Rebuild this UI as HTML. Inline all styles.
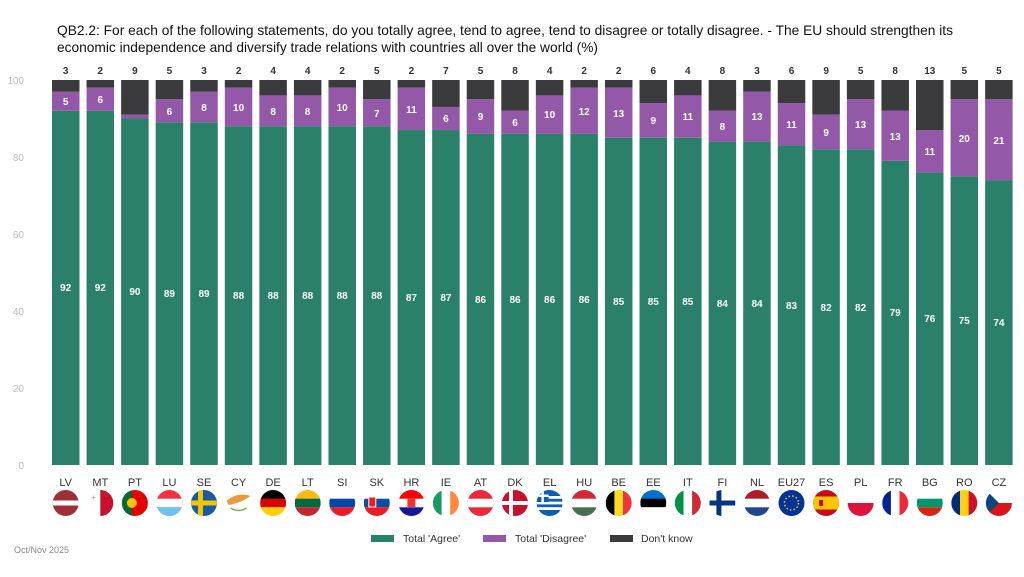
<!DOCTYPE html>
<html><head><meta charset="utf-8"><style>
body{margin:0;background:#fff}
svg{display:block;font-family:"Liberation Sans",sans-serif}
.g{fill:#2a8069}.p{fill:#9458a8}.k{fill:#3b3a3d}
.vl{font-size:10px;font-weight:bold;fill:#fff;text-anchor:middle}
.dk{font-size:10px;font-weight:bold;fill:#333;text-anchor:middle}
.cl{font-size:11px;fill:#333;text-anchor:middle}
.ax{font-size:10px;fill:#bbb;text-anchor:end}
</style></head><body>
<svg width="1024" height="577" viewBox="0 0 1024 577">
<text x="57" y="35" font-size="14" fill="#111" textLength="896" lengthAdjust="spacingAndGlyphs">QB2.2: For each of the following statements, do you totally agree, tend to agree, tend to disagree or totally disagree. - The EU should strengthen its</text>
<text x="57" y="52" font-size="14" fill="#111" textLength="541" lengthAdjust="spacingAndGlyphs">economic independence and diversify trade relations with countries all over the world (%)</text>
<g class="ax"><text x="24" y="84">100</text><text x="24" y="161">80</text><text x="24" y="238">60</text><text x="24" y="315">40</text><text x="24" y="392">20</text><text x="24" y="469">0</text></g>
<defs><clipPath id="c"><circle cx="0" cy="0" r="13"/></clipPath></defs>
<g transform="translate(52,465) scale(1,-3.85)">
<g transform="translate(0,0)"><rect class="g" width="27.5" height="92"/><rect class="p" y="92" width="27.5" height="5"/><rect class="k" y="97" width="27.5" height="3"/></g>
<g transform="translate(34.56,0)"><rect class="g" width="27.5" height="92"/><rect class="p" y="92" width="27.5" height="6"/><rect class="k" y="98" width="27.5" height="2"/></g>
<g transform="translate(69.12,0)"><rect class="g" width="27.5" height="90"/><rect class="p" y="90" width="27.5" height="1"/><rect class="k" y="91" width="27.5" height="9"/></g>
<g transform="translate(103.68,0)"><rect class="g" width="27.5" height="89"/><rect class="p" y="89" width="27.5" height="6"/><rect class="k" y="95" width="27.5" height="5"/></g>
<g transform="translate(138.24,0)"><rect class="g" width="27.5" height="89"/><rect class="p" y="89" width="27.5" height="8"/><rect class="k" y="97" width="27.5" height="3"/></g>
<g transform="translate(172.8,0)"><rect class="g" width="27.5" height="88"/><rect class="p" y="88" width="27.5" height="10"/><rect class="k" y="98" width="27.5" height="2"/></g>
<g transform="translate(207.36,0)"><rect class="g" width="27.5" height="88"/><rect class="p" y="88" width="27.5" height="8"/><rect class="k" y="96" width="27.5" height="4"/></g>
<g transform="translate(241.92,0)"><rect class="g" width="27.5" height="88"/><rect class="p" y="88" width="27.5" height="8"/><rect class="k" y="96" width="27.5" height="4"/></g>
<g transform="translate(276.48,0)"><rect class="g" width="27.5" height="88"/><rect class="p" y="88" width="27.5" height="10"/><rect class="k" y="98" width="27.5" height="2"/></g>
<g transform="translate(311.04,0)"><rect class="g" width="27.5" height="88"/><rect class="p" y="88" width="27.5" height="7"/><rect class="k" y="95" width="27.5" height="5"/></g>
<g transform="translate(345.6,0)"><rect class="g" width="27.5" height="87"/><rect class="p" y="87" width="27.5" height="11"/><rect class="k" y="98" width="27.5" height="2"/></g>
<g transform="translate(380.16,0)"><rect class="g" width="27.5" height="87"/><rect class="p" y="87" width="27.5" height="6"/><rect class="k" y="93" width="27.5" height="7"/></g>
<g transform="translate(414.72,0)"><rect class="g" width="27.5" height="86"/><rect class="p" y="86" width="27.5" height="9"/><rect class="k" y="95" width="27.5" height="5"/></g>
<g transform="translate(449.28,0)"><rect class="g" width="27.5" height="86"/><rect class="p" y="86" width="27.5" height="6"/><rect class="k" y="92" width="27.5" height="8"/></g>
<g transform="translate(483.84,0)"><rect class="g" width="27.5" height="86"/><rect class="p" y="86" width="27.5" height="10"/><rect class="k" y="96" width="27.5" height="4"/></g>
<g transform="translate(518.4,0)"><rect class="g" width="27.5" height="86"/><rect class="p" y="86" width="27.5" height="12"/><rect class="k" y="98" width="27.5" height="2"/></g>
<g transform="translate(552.96,0)"><rect class="g" width="27.5" height="85"/><rect class="p" y="85" width="27.5" height="13"/><rect class="k" y="98" width="27.5" height="2"/></g>
<g transform="translate(587.52,0)"><rect class="g" width="27.5" height="85"/><rect class="p" y="85" width="27.5" height="9"/><rect class="k" y="94" width="27.5" height="6"/></g>
<g transform="translate(622.08,0)"><rect class="g" width="27.5" height="85"/><rect class="p" y="85" width="27.5" height="11"/><rect class="k" y="96" width="27.5" height="4"/></g>
<g transform="translate(656.64,0)"><rect class="g" width="27.5" height="84"/><rect class="p" y="84" width="27.5" height="8"/><rect class="k" y="92" width="27.5" height="8"/></g>
<g transform="translate(691.2,0)"><rect class="g" width="27.5" height="84"/><rect class="p" y="84" width="27.5" height="13"/><rect class="k" y="97" width="27.5" height="3"/></g>
<g transform="translate(725.76,0)"><rect class="g" width="27.5" height="83"/><rect class="p" y="83" width="27.5" height="11"/><rect class="k" y="94" width="27.5" height="6"/></g>
<g transform="translate(760.32,0)"><rect class="g" width="27.5" height="82"/><rect class="p" y="82" width="27.5" height="9"/><rect class="k" y="91" width="27.5" height="9"/></g>
<g transform="translate(794.88,0)"><rect class="g" width="27.5" height="82"/><rect class="p" y="82" width="27.5" height="13"/><rect class="k" y="95" width="27.5" height="5"/></g>
<g transform="translate(829.44,0)"><rect class="g" width="27.5" height="79"/><rect class="p" y="79" width="27.5" height="13"/><rect class="k" y="92" width="27.5" height="8"/></g>
<g transform="translate(864,0)"><rect class="g" width="27.5" height="76"/><rect class="p" y="76" width="27.5" height="11"/><rect class="k" y="87" width="27.5" height="13"/></g>
<g transform="translate(898.56,0)"><rect class="g" width="27.5" height="75"/><rect class="p" y="75" width="27.5" height="20"/><rect class="k" y="95" width="27.5" height="5"/></g>
<g transform="translate(933.12,0)"><rect class="g" width="27.5" height="74"/><rect class="p" y="74" width="27.5" height="21"/><rect class="k" y="95" width="27.5" height="5"/></g>
</g>
<g class="dk">
<text x="65.7" y="74">3</text><text x="100.3" y="74">2</text><text x="134.9" y="74">9</text><text x="169.4" y="74">5</text><text x="204" y="74">3</text><text x="238.6" y="74">2</text><text x="273.1" y="74">4</text><text x="307.7" y="74">4</text><text x="342.2" y="74">2</text><text x="376.8" y="74">5</text><text x="411.4" y="74">2</text><text x="445.9" y="74">7</text><text x="480.5" y="74">5</text><text x="515" y="74">8</text><text x="549.6" y="74">4</text><text x="584.2" y="74">2</text><text x="618.7" y="74">2</text><text x="653.3" y="74">6</text><text x="687.8" y="74">4</text><text x="722.4" y="74">8</text><text x="757" y="74">3</text><text x="791.5" y="74">6</text><text x="826.1" y="74">9</text><text x="860.6" y="74">5</text><text x="895.2" y="74">8</text><text x="929.8" y="74">13</text><text x="964.3" y="74">5</text><text x="998.9" y="74">5</text>
</g>
<g class="vl">
<text x="65.7" y="291">92</text><text x="100.3" y="291">92</text><text x="134.9" y="295">90</text><text x="169.4" y="297">89</text><text x="204" y="297">89</text><text x="238.6" y="299">88</text><text x="273.1" y="299">88</text><text x="307.7" y="299">88</text><text x="342.2" y="299">88</text><text x="376.8" y="299">88</text><text x="411.4" y="301">87</text><text x="445.9" y="301">87</text><text x="480.5" y="303">86</text><text x="515" y="303">86</text><text x="549.6" y="303">86</text><text x="584.2" y="303">86</text><text x="618.7" y="305">85</text><text x="653.3" y="305">85</text><text x="687.8" y="305">85</text><text x="722.4" y="307">84</text><text x="757" y="307">84</text><text x="791.5" y="309">83</text><text x="826.1" y="311">82</text><text x="860.6" y="311">82</text><text x="895.2" y="316">79</text><text x="929.8" y="322">76</text><text x="964.3" y="324">75</text><text x="998.9" y="326">74</text>
<text x="65.7" y="105">5</text><text x="100.3" y="103">6</text><text x="169.4" y="115">6</text><text x="204" y="111">8</text><text x="238.6" y="111">10</text><text x="273.1" y="115">8</text><text x="307.7" y="115">8</text><text x="342.2" y="111">10</text><text x="376.8" y="117">7</text><text x="411.4" y="113">11</text><text x="445.9" y="122">6</text><text x="480.5" y="120">9</text><text x="515" y="126">6</text><text x="549.6" y="118">10</text><text x="584.2" y="115">12</text><text x="618.7" y="117">13</text><text x="653.3" y="124">9</text><text x="687.8" y="120">11</text><text x="722.4" y="130">8</text><text x="757" y="120">13</text><text x="791.5" y="128">11</text><text x="826.1" y="136">9</text><text x="860.6" y="128">13</text><text x="895.2" y="140">13</text><text x="929.8" y="155">11</text><text x="964.3" y="142">20</text><text x="998.9" y="144">21</text>
</g>
<g class="cl">
<text x="65.7" y="486">LV</text><text x="100.3" y="486">MT</text><text x="134.9" y="486">PT</text><text x="169.4" y="486">LU</text><text x="204" y="486">SE</text><text x="238.6" y="486">CY</text><text x="273.1" y="486">DE</text><text x="307.7" y="486">LT</text><text x="342.2" y="486">SI</text><text x="376.8" y="486">SK</text><text x="411.4" y="486">HR</text><text x="445.9" y="486">IE</text><text x="480.5" y="486">AT</text><text x="515" y="486">DK</text><text x="549.6" y="486">EL</text><text x="584.2" y="486">HU</text><text x="618.7" y="486">BE</text><text x="653.3" y="486">EE</text><text x="687.8" y="486">IT</text><text x="722.4" y="486">FI</text><text x="757" y="486">NL</text><text x="791.5" y="486">EU27</text><text x="826.1" y="486">ES</text><text x="860.6" y="486">PL</text><text x="895.2" y="486">FR</text><text x="929.8" y="486">BG</text><text x="964.3" y="486">RO</text><text x="998.9" y="486">CZ</text>
</g>
<g clip-path="url(#c)" transform="translate(65.7,503)"><rect x="-13" y="-13" width="26" height="26" fill="#9e3039"/><rect x="-13" y="-2.5" width="26" height="5" fill="#fff"/></g>
<g transform="translate(100.3,503)"><g clip-path="url(#c)"><rect x="0" y="-13" width="13" height="26" fill="#c8102e"/></g><text x="-9" y="-3" font-size="8" fill="#c88">+</text></g>
<g clip-path="url(#c)" transform="translate(134.9,503)"><rect x="-13" y="-13" width="26" height="26" fill="#e50000"/><rect x="-13" y="-13" width="10" height="26" fill="#046a38"/><circle cx="-3" cy="0" r="5" fill="#f6c400"/></g>
<g clip-path="url(#c)" transform="translate(169.4,503)"><rect x="-13" y="-13" width="26" height="26" fill="#ef3340"/><rect x="-13" y="-4.3" width="26" height="8.6" fill="#fff"/><rect x="-13" y="4.3" width="26" height="9" fill="#6fc2ef"/></g>
<g clip-path="url(#c)" transform="translate(204,503)"><rect x="-13" y="-13" width="26" height="26" fill="#1a5aa0"/><rect x="-13" y="-2.5" width="26" height="5" fill="#f4c400"/><rect x="-6" y="-13" width="5" height="26" fill="#f4c400"/></g>
<g clip-path="url(#c)" transform="translate(238.6,503)"><path d="M-12,-2 C-6,-8 4,-10 12,-7 C6,-3 0,0 -10,2 Z" fill="#e89a3c"/><path d="M-8,5 Q0,10 8,5" stroke="#8aa85a" stroke-width="1.5" fill="none"/></g>
<g clip-path="url(#c)" transform="translate(273.1,503)"><rect x="-13" y="-13" width="26" height="9" fill="#000"/><rect x="-13" y="-4.3" width="26" height="8.6" fill="#dd0000"/><rect x="-13" y="4.3" width="26" height="9" fill="#ffce00"/></g>
<g clip-path="url(#c)" transform="translate(307.7,503)"><rect x="-13" y="-13" width="26" height="9" fill="#fdb913"/><rect x="-13" y="-4.3" width="26" height="8.6" fill="#006a44"/><rect x="-13" y="4.3" width="26" height="9" fill="#c1272d"/></g>
<g clip-path="url(#c)" transform="translate(342.2,503)"><rect x="-13" y="-13" width="26" height="9" fill="#fff"/><rect x="-13" y="-4.3" width="26" height="8.6" fill="#0047ab"/><rect x="-13" y="4.3" width="26" height="9" fill="#ed1c24"/></g>
<g clip-path="url(#c)" transform="translate(376.8,503)"><rect x="-13" y="-13" width="26" height="9" fill="#fff"/><rect x="-13" y="-4.3" width="26" height="8.6" fill="#0b4ea2"/><rect x="-13" y="4.3" width="26" height="9" fill="#ee1c25"/><rect x="-8" y="-6" width="7" height="10" fill="#ee1c25" stroke="#fff"/></g>
<g clip-path="url(#c)" transform="translate(411.4,503)"><rect x="-13" y="-13" width="26" height="9" fill="#ff0000"/><rect x="-13" y="-4.3" width="26" height="8.6" fill="#fff"/><rect x="-13" y="4.3" width="26" height="9" fill="#171796"/><rect x="-4" y="-5" width="8" height="9" fill="#e33"/></g>
<g clip-path="url(#c)" transform="translate(445.9,503)"><rect x="-13" y="-13" width="9" height="26" fill="#169b62"/><rect x="-4.3" y="-13" width="8.6" height="26" fill="#fff"/><rect x="4.3" y="-13" width="9" height="26" fill="#ff883e"/></g>
<g clip-path="url(#c)" transform="translate(480.5,503)"><rect x="-13" y="-13" width="26" height="26" fill="#ed2939"/><rect x="-13" y="-4.3" width="26" height="8.6" fill="#fff"/></g>
<g clip-path="url(#c)" transform="translate(515,503)"><rect x="-13" y="-13" width="26" height="26" fill="#c8102e"/><rect x="-13" y="-2" width="26" height="4" fill="#fff"/><rect x="-6" y="-13" width="4" height="26" fill="#fff"/></g>
<g clip-path="url(#c)" transform="translate(549.6,503)"><rect x="-13" y="-13" width="26" height="26" fill="#0d5eaf"/><rect x="-13" y="-7" width="26" height="2.8" fill="#fff"/><rect x="-13" y="-1.4" width="26" height="2.8" fill="#fff"/><rect x="-13" y="4.2" width="26" height="2.8" fill="#fff"/><rect x="-13" y="-13" width="12" height="12" fill="#0d5eaf"/><rect x="-13" y="-8.5" width="12" height="2.5" fill="#fff"/><rect x="-8.2" y="-13" width="2.5" height="12" fill="#fff"/></g>
<g clip-path="url(#c)" transform="translate(584.2,503)"><rect x="-13" y="-13" width="26" height="9" fill="#ce2939"/><rect x="-13" y="-4.3" width="26" height="8.6" fill="#fff"/><rect x="-13" y="4.3" width="26" height="9" fill="#477050"/></g>
<g clip-path="url(#c)" transform="translate(618.7,503)"><rect x="-13" y="-13" width="9" height="26" fill="#000"/><rect x="-4.3" y="-13" width="8.6" height="26" fill="#fdda24"/><rect x="4.3" y="-13" width="9" height="26" fill="#ef3340"/></g>
<g clip-path="url(#c)" transform="translate(653.3,503)"><rect x="-13" y="-13" width="26" height="9" fill="#0072ce"/><rect x="-13" y="-4.3" width="26" height="8.6" fill="#000"/><rect x="-13" y="4.3" width="26" height="9" fill="#fff"/></g>
<g clip-path="url(#c)" transform="translate(687.8,503)"><rect x="-13" y="-13" width="9" height="26" fill="#009246"/><rect x="-4.3" y="-13" width="8.6" height="26" fill="#fff"/><rect x="4.3" y="-13" width="9" height="26" fill="#ce2b37"/></g>
<g clip-path="url(#c)" transform="translate(722.4,503)"><rect x="-13" y="-13" width="26" height="26" fill="#fff"/><rect x="-13" y="-2.5" width="26" height="5" fill="#003580"/><rect x="-6" y="-13" width="5" height="26" fill="#003580"/></g>
<g clip-path="url(#c)" transform="translate(757,503)"><rect x="-13" y="-13" width="26" height="9" fill="#ae1c28"/><rect x="-13" y="-4.3" width="26" height="8.6" fill="#fff"/><rect x="-13" y="4.3" width="26" height="9" fill="#21468b"/></g>
<g clip-path="url(#c)" transform="translate(791.5,503)"><rect x="-13" y="-13" width="26" height="26" fill="#003399"/><circle r="7" fill="none" stroke="#fc0" stroke-width="1.5" stroke-dasharray="1.5 2.2"/></g>
<g clip-path="url(#c)" transform="translate(826.1,503)"><rect x="-13" y="-13" width="26" height="26" fill="#c60b1e"/><rect x="-13" y="-6.5" width="26" height="13" fill="#ffc400"/><rect x="-7" y="-3" width="4" height="6" fill="#c60b1e"/></g>
<g clip-path="url(#c)" transform="translate(860.6,503)"><rect x="-13" y="-13" width="26" height="13" fill="#fff"/><rect x="-13" y="0" width="26" height="13" fill="#dc143c"/></g>
<g clip-path="url(#c)" transform="translate(895.2,503)"><rect x="-13" y="-13" width="9" height="26" fill="#002395"/><rect x="-4.3" y="-13" width="8.6" height="26" fill="#fff"/><rect x="4.3" y="-13" width="9" height="26" fill="#ed2939"/></g>
<g clip-path="url(#c)" transform="translate(929.8,503)"><rect x="-13" y="-13" width="26" height="9" fill="#fff"/><rect x="-13" y="-4.3" width="26" height="8.6" fill="#00966e"/><rect x="-13" y="4.3" width="26" height="9" fill="#d62612"/></g>
<g clip-path="url(#c)" transform="translate(964.3,503)"><rect x="-13" y="-13" width="9" height="26" fill="#002b7f"/><rect x="-4.3" y="-13" width="8.6" height="26" fill="#fcd116"/><rect x="4.3" y="-13" width="9" height="26" fill="#ce1126"/></g>
<g clip-path="url(#c)" transform="translate(998.9,503)"><rect x="-13" y="-13" width="26" height="13" fill="#fff"/><rect x="-13" y="0" width="26" height="13" fill="#d7141a"/><path d="M-13,-13 L0,0 L-13,13 Z" fill="#11457e"/></g>
<rect x="371" y="535" width="23" height="7" class="g"/><text x="403" y="542" font-size="10.5" fill="#333">Total 'Agree'</text>
<rect x="483" y="535" width="23" height="7" class="p"/><text x="515" y="542" font-size="10.5" fill="#333">Total 'Disagree'</text>
<rect x="610" y="535" width="23" height="7" class="k"/><text x="641" y="542" font-size="10.5" fill="#333">Don't know</text>
<text x="14" y="553" font-size="9" fill="#888">Oct/Nov 2025</text>
</svg>
</body></html>
